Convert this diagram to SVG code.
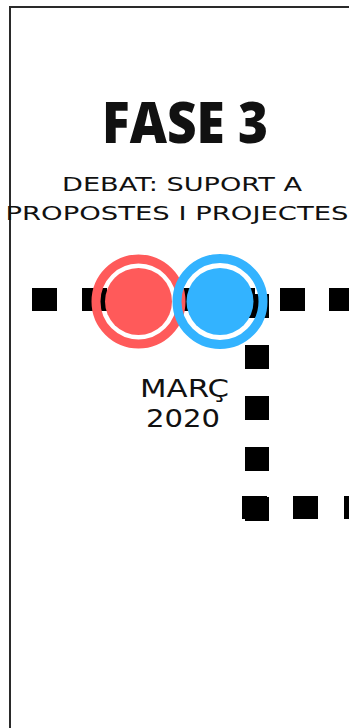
<svg xmlns="http://www.w3.org/2000/svg" width="349" height="728" viewBox="0 0 349 728">
<style>
.t{fill:#111;text-anchor:middle}
.h{font-family:"Open Sans","Noto Sans","Liberation Sans",sans-serif;font-weight:800;font-size:56px}
.s{font-family:"DejaVu Sans","Liberation Sans",sans-serif;font-weight:normal;font-size:19px}
.d{font-family:"DejaVu Sans","Liberation Sans",sans-serif;font-weight:normal;font-size:25px}
.sq{fill:#000}
</style>
<rect x="0" y="0" width="349" height="728" fill="#fff"/>
<path d="M10 728 V7 H349" fill="none" stroke="#2a2a2a" stroke-width="2"/>
<g id="title">
<text class="t h" x="185" y="143" textLength="166" lengthAdjust="spacingAndGlyphs">FASE 3</text>
</g>
<g id="subtitle">
<text class="t s" x="182" y="191" textLength="240" lengthAdjust="spacingAndGlyphs">DEBAT: SUPORT A</text>
<text class="t s" x="177" y="220" textLength="343" lengthAdjust="spacingAndGlyphs">PROPOSTES I PROJECTES</text>
</g>
<g id="connectors">
<rect class="sq" x="32" y="288" width="25" height="23"/>
<rect class="sq" x="82" y="288" width="25" height="23"/>
<rect class="sq" x="131" y="288" width="25" height="23"/>
<rect class="sq" x="181" y="288" width="25" height="23"/>
<rect class="sq" x="230" y="288" width="25" height="23"/>
<rect class="sq" x="280" y="288" width="25" height="23"/>
<rect class="sq" x="329" y="288" width="25" height="23"/>
<rect class="sq" x="245" y="294" width="24" height="24"/>
<rect class="sq" x="245" y="345" width="24" height="24"/>
<rect class="sq" x="245" y="396" width="24" height="24"/>
<rect class="sq" x="245" y="447" width="24" height="24"/>
<rect class="sq" x="245" y="497" width="24" height="24"/>
<rect class="sq" x="242" y="496" width="25" height="23"/>
<rect class="sq" x="293" y="496" width="25" height="23"/>
<rect class="sq" x="344" y="496" width="25" height="23"/>
</g>
<g id="node-red">
<circle cx="138.5" cy="301.5" r="42.5" fill="none" stroke="#ff5a5a" stroke-width="9"/>
<circle cx="138.5" cy="301.5" r="33.5" fill="#ff5a5a"/>
</g>
<g id="node-blue">
<circle cx="220" cy="301.5" r="43" fill="none" stroke="#33b3ff" stroke-width="9"/>
<circle cx="220" cy="301.5" r="33.5" fill="#33b3ff"/>
</g>
<g id="date">
<text class="t d" x="184.5" y="397" textLength="89" lengthAdjust="spacingAndGlyphs">MARÇ</text>
<text class="t d" x="183" y="427" textLength="74" lengthAdjust="spacingAndGlyphs">2020</text>
</g>
</svg>
